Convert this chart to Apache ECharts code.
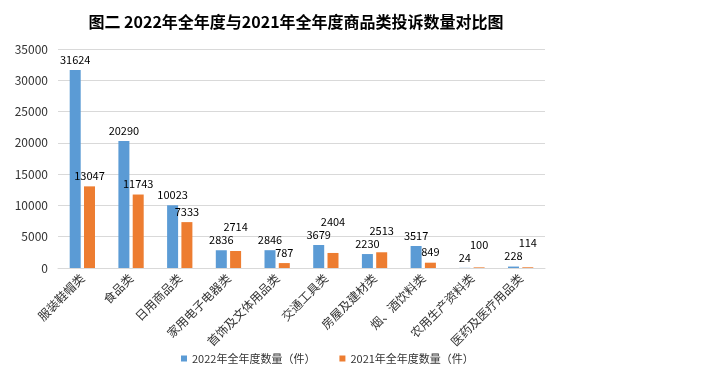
<!DOCTYPE html>
<html>
<head>
<meta charset="utf-8">
<script src="https://cdn.jsdelivr.net/npm/echarts@6/dist/echarts.min.js"></script>
<style>
html,body{margin:0;padding:0;background:#fff;}
#chart{width:706px;height:375px;}
</style>
</head>
<body>
<div id="chart"></div>
<script>
let categories = ['服装鞋帽类', '食品类', '日用商品类', '家用电子电器类', '首饰及文体用品类', '交通工具类', '房屋及建材类', '烟、酒饮料类', '农用生产资料类', '医药及医疗用品类'];
let values2022 = [31624, 20290, 10023, 2836, 2846, 3679, 2230, 3517, 24, 228];
let values2021 = [13047, 11743, 7333, 2714, 787, 2404, 2513, 849, 100, 114];
let seriesNames = ['2022年全年度数量（件）', '2021年全年度数量（件）'];

let myChart = echarts.init(document.getElementById('chart'));
let font = '"Noto Sans CJK SC", sans-serif';

let plotHeight = 219, yMax = 35000;
let pxPerUnit = plotHeight / yMax;

// 2021的标签若与2022的标签重叠，就往上抬
let data2021 = values2021.map((v, i) => {
    let diff = (values2022[i] - v) * pxPerUnit;
    if (Math.abs(diff) < 12) {
        return { value: v, label: { distance: 5 + 13 + diff } };
    }
    return v;
});

let barLabel = { show: true, position: 'top', fontSize: 11, color: '#000', distance: 5 };

let option = {
    animation: false,
    color: ['#5b9bd5', '#ed7d31'],
    textStyle: { fontFamily: font },
    title: {
        text: '图二 2022年全年度与2021年全年度商品类投诉数量对比图',
        left: 291,
        textAlign: 'center',
        top: 9,
        textStyle: { fontSize: 16, fontWeight: 'bold', color: '#000', fontFamily: font }
    },
    grid: { left: 58, right: 161, top: 49, height: plotHeight, containLabel: false },
    legend: {
        bottom: 6,
        left: 176,
        itemWidth: 6,
        itemHeight: 6,
        itemGap: 24,
        icon: 'rect',
        textStyle: { fontSize: 11, color: '#333', fontFamily: font },
        data: seriesNames
    },
    xAxis: {
        type: 'category',
        data: categories,
        axisTick: { show: false },
        axisLine: { lineStyle: { color: '#d9d9d9' } },
        axisLabel: { rotate: 45, interval: 0, fontSize: 12, color: '#333', margin: 8, fontFamily: font }
    },
    yAxis: {
        type: 'value',
        min: 0,
        max: yMax,
        interval: 5000,
        axisLine: { show: false },
        axisTick: { show: false },
        splitLine: { lineStyle: { color: '#d9d9d9' } },
        axisLabel: { fontSize: 12, color: '#333', margin: 10, formatter: v => String(v) }
    },
    series: [
        {
            name: seriesNames[0],
            type: 'bar',
            data: values2022,
            barWidth: 11,
            barGap: '30%',
            label: barLabel
        },
        {
            name: seriesNames[1],
            type: 'bar',
            data: data2021,
            barWidth: 11,
            label: barLabel
        }
    ]
};

myChart.setOption(option);
</script>
</body>
</html>
